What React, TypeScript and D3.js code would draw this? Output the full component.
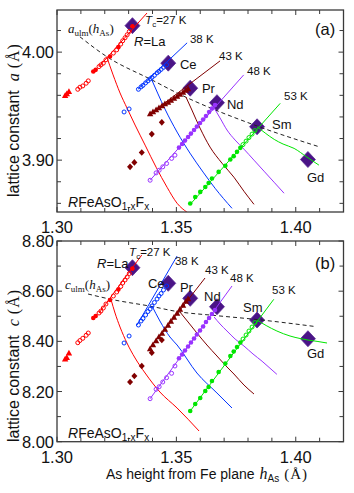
import React from "react";
import * as d3 from "d3";

const W = 354;
const H = 493;

// tick labels
const xTickLabels = ["1.30", "1.35", "1.40"];
const aTickLabels = ["3.90", "4.00"];
const cTickLabels = ["8.00", "8.20", "8.40", "8.60", "8.80"];

const rareEarths = ["La", "Ce", "Pr", "Nd", "Sm", "Gd"];
const tcLabels = ["27 K", "38 K", "43 K", "48 K", "53 K"];
const seriesColors = ["#ff0000", "#0033ff", "#800000", "#9933ff", "#00e600"];

// sample points: h_As, a, c, marker (t=triangle, o=open, f=filled, d=diamond)
const laH = [1.3034, 1.3041, 1.305, 1.3087, 1.3096, 1.3108, 1.3122, 1.3131, 1.3152, 1.3162, 1.3176, 1.3184, 1.3194, 1.3205, 1.3222, 1.3236, 1.325, 1.3257, 1.3267, 1.3275, 1.3285, 1.3294, 1.3303, 1.3316];
const laA = [3.9597, 3.9613, 3.9634, 3.9656, 3.9675, 3.9687, 3.9712, 3.9734, 3.982, 3.9836, 3.9866, 3.9882, 3.9898, 3.9929, 3.9959, 3.9991, 4.0021, 4.0046, 4.0074, 4.0105, 4.0133, 4.0161, 4.0191, 4.024];
const laC = [8.3284, 8.3348, 8.3523, 8.3946, 8.4033, 8.4121, 8.4241, 8.4332, 8.493, 8.501, 8.513, 8.5209, 8.5329, 8.5488, 8.5648, 8.5807, 8.5967, 8.6066, 8.6186, 8.6325, 8.6445, 8.6564, 8.6704, 8.69];
const laM = ["t", "t", "t", "o", "o", "o", "o", "o", "f", "f", "o", "o", "o", "o", "f", "o", "o", "f", "o", "o", "o", "o", "o", "f"];

const ceH = [1.3281, 1.3302, 1.3341, 1.3352, 1.336, 1.3371, 1.3381, 1.339, 1.3398, 1.3408, 1.3419, 1.3427, 1.3436, 1.3446, 1.3459];
const ceA = [3.9446, 3.9474, 3.9656, 3.9678, 3.9692, 3.9715, 3.9734, 3.9752, 3.9766, 3.9785, 3.9808, 3.9822, 3.984, 3.9859, 3.9882];
const ceC = [8.3934, 8.4213, 8.4651, 8.4811, 8.491, 8.505, 8.5189, 8.5289, 8.5409, 8.5548, 8.5688, 8.5807, 8.5907, 8.6047, 8.6206];
const ceM = ["o", "o", "o", "o", "o", "o", "o", "o", "o", "o", "o", "o", "o", "o", "o"];

const prH = [1.3306, 1.3324, 1.3355, 1.3397, 1.3439, 1.339, 1.3402, 1.3415, 1.3427, 1.344, 1.3452, 1.3465, 1.3477, 1.349, 1.3503, 1.3515, 1.3528, 1.354, 1.3549];
const prA = [3.8938, 3.8979, 3.9071, 3.9241, 3.935, 3.9427, 3.9446, 3.9464, 3.9483, 3.9501, 3.952, 3.9534, 3.9552, 3.9571, 3.959, 3.9608, 3.9627, 3.9645, 3.9659];
const prC = [8.2379, 8.2619, 8.3017, 8.3547, 8.4053, 8.3695, 8.3854, 8.4013, 8.4173, 8.4312, 8.4472, 8.4631, 8.4791, 8.495, 8.511, 8.5269, 8.5428, 8.5588, 8.5688];
const prM = ["d", "d", "d", "d", "d", "t", "t", "t", "t", "t", "t", "t", "t", "t", "t", "t", "t", "t", "t"];

const ndH = [1.339, 1.3415, 1.3428, 1.3443, 1.3459, 1.348, 1.3494, 1.3511, 1.3524, 1.3536, 1.3549, 1.3561, 1.3574, 1.3586, 1.3599, 1.3612, 1.3624, 1.3637, 1.3649, 1.3662];
const ndA = [3.8814, 3.8882, 3.8907, 3.8938, 3.8969, 3.9016, 3.9046, 3.9116, 3.9149, 3.9181, 3.9214, 3.9246, 3.9279, 3.9311, 3.9344, 3.9376, 3.9409, 3.9446, 3.9478, 3.9511];
const ndC = [8.1714, 8.2088, 8.2192, 8.2379, 8.2551, 8.2726, 8.3017, 8.3324, 8.3475, 8.3635, 8.3794, 8.3954, 8.4113, 8.4273, 8.4432, 8.4591, 8.4771, 8.493, 8.509, 8.5249];
const ndM = ["o", "o", "o", "o", "o", "o", "o", "f", "f", "f", "f", "f", "f", "f", "f", "f", "f", "f", "f", "f"];

const smH = [1.3558, 1.3579, 1.36, 1.3621, 1.3635, 1.3649, 1.3677, 1.3705, 1.3726, 1.374, 1.3754, 1.3768, 1.3779, 1.3792, 1.3804, 1.3817, 1.3829];
const smA = [3.8598, 3.8659, 3.8706, 3.8752, 3.8789, 3.883, 3.8891, 3.8947, 3.9006, 3.9037, 3.9077, 3.9114, 3.9144, 3.9176, 3.9209, 3.9241, 3.9274];
const smC = [8.1224, 8.1503, 8.1742, 8.2021, 8.218, 8.2419, 8.2778, 8.3117, 8.3416, 8.3595, 8.3774, 8.3954, 8.4093, 8.4253, 8.4412, 8.4571, 8.4751];
const smM = ["f", "f", "f", "f", "f", "f", "f", "f", "f", "f", "f", "f", "o", "o", "o", "o", "o"];

// Tc lines [h, value]
const laLineA = [[1.3176, 3.9866], [1.3377, 4.0362]];
const laLineC = [[1.3176, 8.513], [1.3355, 8.744]];
const ceLineA = [[1.3339, 3.9656], [1.3545, 4.0086]];
const ceLineC = [[1.3335, 8.4651], [1.3503, 8.7401]];
const prLineA = [[1.339, 3.9427], [1.3683, 3.9919]];
const prLineC = [[1.3431, 8.4213], [1.362, 8.6525]];
const ndLineA = [[1.339, 3.8814], [1.3782, 3.9789]];
const ndLineC = [[1.339, 8.1714], [1.3733, 8.6206]];
const smLineA = [[1.3558, 3.8591], [1.3935, 3.9526]];
const smLineC = [[1.3558, 8.1224], [1.3908, 8.5676]];

// curves below the ulm line
const laCurveA = [[1.3208, 3.9959], [1.3235, 3.9789], [1.3264, 3.9622], [1.3293, 3.9483], [1.3327, 3.9325], [1.3369, 3.9139], [1.3415, 3.8935], [1.3461, 3.8749], [1.3503, 3.8601], [1.3545, 3.8517]];
const laCurveC = [[1.3226, 8.5676], [1.3243, 8.513], [1.3264, 8.4571], [1.3293, 8.3934], [1.3327, 8.3336], [1.3369, 8.2738], [1.3431, 8.1981], [1.3503, 8.1343], [1.3595, 8.0426]];
const ceCurveA = [[1.3397, 3.9743], [1.3423, 3.9613], [1.3452, 3.9474], [1.3503, 3.926], [1.3557, 3.9065], [1.3612, 3.8889], [1.3662, 3.874], [1.3733, 3.8554]];
const ceCurveC = [[1.3398, 8.5409], [1.3431, 8.4811], [1.3473, 8.4173], [1.3503, 8.3854], [1.3586, 8.2738], [1.367, 8.1941], [1.3733, 8.1343]];
const prCurveA = [[1.354, 3.9585], [1.3565, 3.9464], [1.3599, 3.9297], [1.3641, 3.9121], [1.3691, 3.8972], [1.3741, 3.8842], [1.3783, 3.8712], [1.3825, 3.8591]];
const prCurveC = [[1.3515, 8.5169], [1.3549, 8.4771], [1.3586, 8.4332], [1.3628, 8.3854], [1.367, 8.3416], [1.3708, 8.3017], [1.3741, 8.2698], [1.3783, 8.226], [1.3825, 8.1901]];
const ndCurveA = [[1.3658, 3.9483], [1.3683, 3.939], [1.3712, 3.9279], [1.3746, 3.9186], [1.3783, 3.9102], [1.3825, 3.9], [1.3867, 3.8898], [1.3909, 3.8796], [1.3951, 3.8694]];
const ndCurveC = [[1.3658, 8.497], [1.3683, 8.4691], [1.3712, 8.4412], [1.3746, 8.4093], [1.3783, 8.3814], [1.3821, 8.3496], [1.3859, 8.3207], [1.3892, 8.293], [1.3921, 8.2686]];
const smCurveA = [[1.3838, 3.9309], [1.3872, 3.9251], [1.391, 3.9192], [1.3947, 3.9149], [1.3993, 3.9109], [1.4047, 3.9028], [1.4097, 3.8954]];
const smCurveC = [[1.3838, 8.485], [1.3876, 8.4631], [1.3921, 8.4412], [1.3976, 8.4213], [1.4018, 8.4113], [1.4051, 8.4053], [1.4093, 8.3994], [1.4131, 8.3934]];

// a_ulm(h_As), c_ulm(h_As)
const ulmA = [[1.3096, 4.0142], [1.3208, 3.9959], [1.3397, 3.9743], [1.3503, 3.9622], [1.3838, 3.9316], [1.4102, 3.9121]];
const ulmC = [[1.313, 8.5887], [1.3226, 8.5676], [1.3398, 8.5389], [1.3503, 8.5189], [1.3662, 8.503], [1.3838, 8.487], [1.4081, 8.4591]];

// x=0 end members (big diamonds)
const bigH = [1.3316, 1.3466, 1.3558, 1.367, 1.3838, 1.4051];
const bigA = [4.0245, 3.9898, 3.9666, 3.9532, 3.9309, 3.9006];
const bigC = [8.6935, 8.6313, 8.5715, 8.5381, 8.485, 8.4105];

// label anchors [h, value]
const tcPosA = [[1.3369, 4.0263], [1.3557, 4.0086], [1.3679, 3.9929], [1.3796, 3.9789], [1.3951, 3.9557]];
const tcPosC = [[1.3302, 8.7401], [1.3494, 8.7043], [1.362, 8.6684], [1.3725, 8.6365], [1.3901, 8.5887]];
const namePosA = [[1.3323, 4.0058], [1.3515, 3.9845], [1.3607, 3.9622], [1.3712, 3.9474], [1.3901, 3.9288], [1.4047, 3.8796]];
const namePosC = [[1.3168, 8.6943], [1.3381, 8.6126], [1.3515, 8.5967], [1.3616, 8.5608], [1.3779, 8.517], [1.4047, 8.3336]];

const series = [
  { h: laH, a: laA, c: laC, m: laM, lineA: laLineA, lineC: laLineC, curveA: laCurveA, curveC: laCurveC },
  { h: ceH, a: ceA, c: ceC, m: ceM, lineA: ceLineA, lineC: ceLineC, curveA: ceCurveA, curveC: ceCurveC },
  { h: prH, a: prA, c: prC, m: prM, lineA: prLineA, lineC: prLineC, curveA: prCurveA, curveC: prCurveC },
  { h: ndH, a: ndA, c: ndC, m: ndM, lineA: ndLineA, lineC: ndLineC, curveA: ndCurveA, curveC: ndCurveC },
  { h: smH, a: smA, c: smC, m: smM, lineA: smLineA, lineC: smLineC, curveA: smCurveA, curveC: smCurveC },
];

const sans = "'Liberation Sans', Arial, Helvetica, sans-serif";
const serif = "'Liberation Serif', 'Times New Roman', serif";
const frameColor = "#3a3a3a";
const diamondColor = "#4a1486";

const x = d3.scaleLinear().domain([1.3, 1.42]).range([57, 343.5]);
const yA = d3.scaleLinear().domain([3.852, 4.039]).range([212, 10]);
const yC = d3.scaleLinear().domain([8.0, 8.8]).range([441.7, 241]);

function marker(kind, cx, cy, color, key) {
  if (kind === "o") return <circle key={key} cx={cx} cy={cy} r={2} fill="none" stroke={color} strokeWidth={1} />;
  if (kind === "f") return <circle key={key} cx={cx} cy={cy} r={2.3} fill={color} />;
  if (kind === "t") return <path key={key} d={`M${cx},${cy - 3.5}L${cx + 3.2},${cy + 2.3}L${cx - 3.2},${cy + 2.3}Z`} fill={color} />;
  return <path key={key} d={`M${cx},${cy - 3.3}L${cx + 3},${cy}L${cx},${cy + 3.3}L${cx - 3},${cy}Z`} fill={color} />;
}

function Panel({ which }) {
  const isA = which === "a";
  const y = isA ? yA : yC;
  const [y0, y1] = y.range();
  const [x0, x1] = x.range();
  const clipId = "clip-" + which;
  const yLabels = isA ? aTickLabels : cTickLabels;
  const yTicks = isA ? y.ticks(10) : y.ticks(8);
  const xTicks = x.ticks(12);
  const isMajor = (v, labels) => labels.some((l) => Math.abs(+l - v) < 1e-6);
  const curve = d3.line().x((d) => x(d[0])).y((d) => y(d[1])).curve(d3.curveMonotoneX);
  const straight = d3.line().x((d) => x(d[0])).y((d) => y(d[1]));
  const tcPos = isA ? tcPosA : tcPosC;
  const namePos = isA ? namePosA : namePosC;
  const big = isA ? bigA : bigC;

  return (
    <g>
      <defs>
        <clipPath id={clipId}>
          <rect x={x0} y={y1} width={x1 - x0} height={y0 - y1} />
        </clipPath>
      </defs>

      {/* ticks */}
      {xTicks.map((v, i) => {
        const len = isMajor(v, xTickLabels) ? 5 : 4;
        return (
          <g key={"xt" + i} stroke={frameColor} strokeWidth={1}>
            <line x1={x(v)} x2={x(v)} y1={y0} y2={y0 - len} />
            <line x1={x(v)} x2={x(v)} y1={y1} y2={y1 + len} />
          </g>
        );
      })}
      {yTicks.map((v, i) => {
        const len = isMajor(v, yLabels) ? 5 : 4;
        return (
          <g key={"yt" + i} stroke={frameColor} strokeWidth={1}>
            <line x1={x0} x2={x0 + len} y1={y(v)} y2={y(v)} />
            <line x1={x1} x2={x1 - len} y1={y(v)} y2={y(v)} />
          </g>
        );
      })}
      {xTickLabels.map((l) => (
        <text key={"xl" + l} x={x(+l)} y={y0 + 21} textAnchor="middle" fontFamily={sans} fontSize={16.5} fill="#111">
          {l}
        </text>
      ))}
      {yLabels.map((l) => (
        <text key={"yl" + l} x={x0 - 3} y={y(+l) + 6} textAnchor="end" fontFamily={sans} fontSize={16.5} fill="#111">
          {l}
        </text>
      ))}

      <g clipPath={`url(#${clipId})`}>
        {/* x=0 end members */}
        {bigH.map((h, i) => {
          const cx = x(h);
          const cy = y(big[i]);
          return (
            <path key={"big" + i} d={`M${cx},${cy - 8}L${cx + 7.5},${cy}L${cx},${cy + 8}L${cx - 7.5},${cy}Z`} fill={diamondColor} stroke="#5b2a95" strokeWidth={0.8} />
          );
        })}

        {/* ulm line */}
        <path d={curve(isA ? ulmA : ulmC)} fill="none" stroke="#222" strokeWidth={1} strokeDasharray="4,3" />

        {series.map((s, i) => (
          <g key={"s" + i}>
            <path d={curve(isA ? s.curveA : s.curveC)} fill="none" stroke={seriesColors[i]} strokeWidth={1} />
            <path d={straight(isA ? s.lineA : s.lineC)} fill="none" stroke={seriesColors[i]} strokeWidth={1} />
            {s.h.map((h, j) => marker(s.m[j], x(h), y(isA ? s.a[j] : s.c[j]), seriesColors[i], "m" + j))}
          </g>
        ))}
      </g>

      {/* Tc labels */}
      {tcPos.map((p, i) =>
        i === 0 ? (
          <text key={"tc" + i} x={x(p[0])} y={y(p[1])} fontFamily={sans} fontSize={11.5} fill="#111">
            <tspan fontStyle="italic">T</tspan>
            <tspan fontSize={8} dy={3}>c</tspan>
            <tspan dy={-3}>{"=" + tcLabels[i]}</tspan>
          </text>
        ) : (
          <text key={"tc" + i} x={x(p[0])} y={y(p[1])} fontFamily={sans} fontSize={11.5} fill="#111">
            {tcLabels[i]}
          </text>
        )
      )}

      {/* element names */}
      {namePos.map((p, i) => (
        <text key={"nm" + i} x={x(p[0])} y={y(p[1])} fontFamily={sans} fontSize={13} fill="#111">
          {i === 0 ? (
            <>
              <tspan fontStyle="italic">R</tspan>
              <tspan>{"=" + rareEarths[i]}</tspan>
            </>
          ) : (
            rareEarths[i]
          )}
        </text>
      ))}

      {/* ulm label */}
      <text x={isA ? 68 : 65} y={isA ? 33 : 289} fontFamily={serif} fontSize={13} fill="#111">
        <tspan fontStyle="italic">{isA ? "a" : "c"}</tspan>
        <tspan fontSize={9} dy={3}>ulm</tspan>
        <tspan dy={-3}>(</tspan>
        <tspan fontStyle="italic">h</tspan>
        <tspan fontSize={9} dy={3}>As</tspan>
        <tspan dy={-3}>)</tspan>
      </text>

      {/* compound label */}
      <text x={68} y={isA ? 207 : 438} fontFamily={sans} fontSize={14} fill="#111">
        <tspan fontStyle="italic">R</tspan>
        <tspan>FeAsO</tspan>
        <tspan fontSize={10} dy={3}>1-x</tspan>
        <tspan dy={-3}>F</tspan>
        <tspan fontSize={10} dy={3}>x</tspan>
      </text>

      {/* panel letter */}
      <text x={315} y={isA ? 35 : 269} fontFamily={sans} fontSize={16.5} fill="#111">
        {isA ? "(a)" : "(b)"}
      </text>

      <rect x={x0} y={y1} width={x1 - x0} height={y0 - y1} fill="none" stroke={frameColor} strokeWidth={1.3} />

      {/* y title */}
      <text transform={`translate(19,${isA ? 197 : 442}) rotate(-90)`} fontFamily={sans} fontSize={16} fill="#111">
        lattice constant
        <tspan dx={9} fontFamily={serif} fontStyle="italic">{isA ? "a" : "c"}</tspan>
        <tspan dx={5} fontFamily={serif} letterSpacing={1}>(Å)</tspan>
      </text>
    </g>
  );
}

export default function App() {
  return (
    <svg width={W} height={H} viewBox={`0 0 ${W} ${H}`} style={{ position: "absolute", left: 0, top: 0, background: "#fff" }}>
      <rect width={W} height={H} fill="#fff" />
      <Panel which="a" />
      <Panel which="c" />
      <text x={207} y={479} textAnchor="middle" fontFamily={sans} fontSize={14} fill="#111">
        As height from Fe plane
        <tspan dx={5} fontFamily={serif} fontStyle="italic" fontSize={16}>h</tspan>
        <tspan fontSize={10} dy={3}>As</tspan>
        <tspan dy={-3} dx={5} fontFamily={serif} fontSize={15} letterSpacing={1}>(Å)</tspan>
      </text>
    </svg>
  );
}
